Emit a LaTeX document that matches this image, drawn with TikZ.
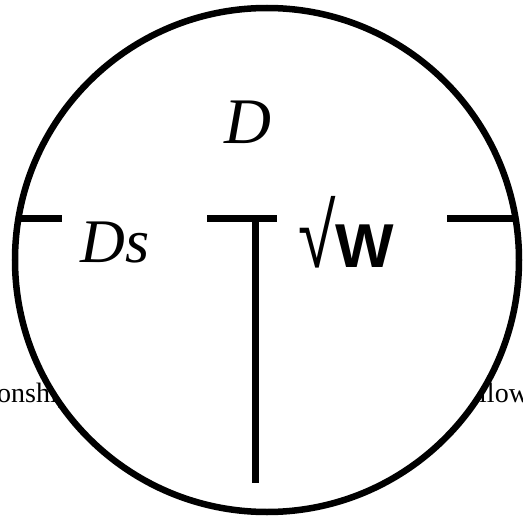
\documentclass[tikz,border=0pt]{standalone}
\usepackage{fontspec}
\usepackage{graphicx}
\setmainfont{Liberation Serif}
\newfontfamily\arialf{Liberation Sans}
\begin{document}
\begin{tikzpicture}[x=1pt,y=-1pt,
  lbl/.style={inner sep=0pt,anchor=base},
  frag/.style={inner sep=0pt,anchor=base west,font=\fontsize{28}{30}\selectfont},
  bar/.style={line width=7pt},
  rim/.style={line width=6.5pt}]
\useasboundingbox (0,0) rectangle (523,519);
\clip (0,0) rectangle (523,519);
% background text fragments (partly hidden by the circle)
\node[frag] (fl) at (-3,402) {onship};
\node[frag] (fr) at (479,402) {llow};
% circle, filled white to hide the background text
\coordinate (c) at (267,260);
\fill[white] (c) circle[radius=252];
\draw[rim] (c) circle[radius=252];
% horizontal and vertical bars
\coordinate (l0) at (10,218);
\coordinate (l1) at (62,218);
\coordinate (m0) at (207,218);
\coordinate (m1) at (277,218);
\coordinate (r0) at (447,218);
\coordinate (r1) at (522,218);
\coordinate (v0) at (255,218);
\coordinate (v1) at (255,483);
\begin{scope}
\clip (c) circle[radius=252];
\draw[bar] (l0) -- (l1);
\draw[bar] (r0) -- (r1);
\end{scope}
\draw[bar] (m0) -- (m1);
\draw[bar] (v0) -- (v1);
% labels
\node[lbl,font=\fontsize{65}{70}\selectfont\itshape] (d) at (248,143) {D};
\node[lbl,font=\fontsize{62}{66}\selectfont\itshape] (ds) at (115,262) {Ds};
\node[lbl,font=\fontsize{62}{66}\selectfont\arialf] (w) at (346,267) {\scalebox{1.1}[1.45]{√}\textbf{W}};
\end{tikzpicture}
\end{document}
